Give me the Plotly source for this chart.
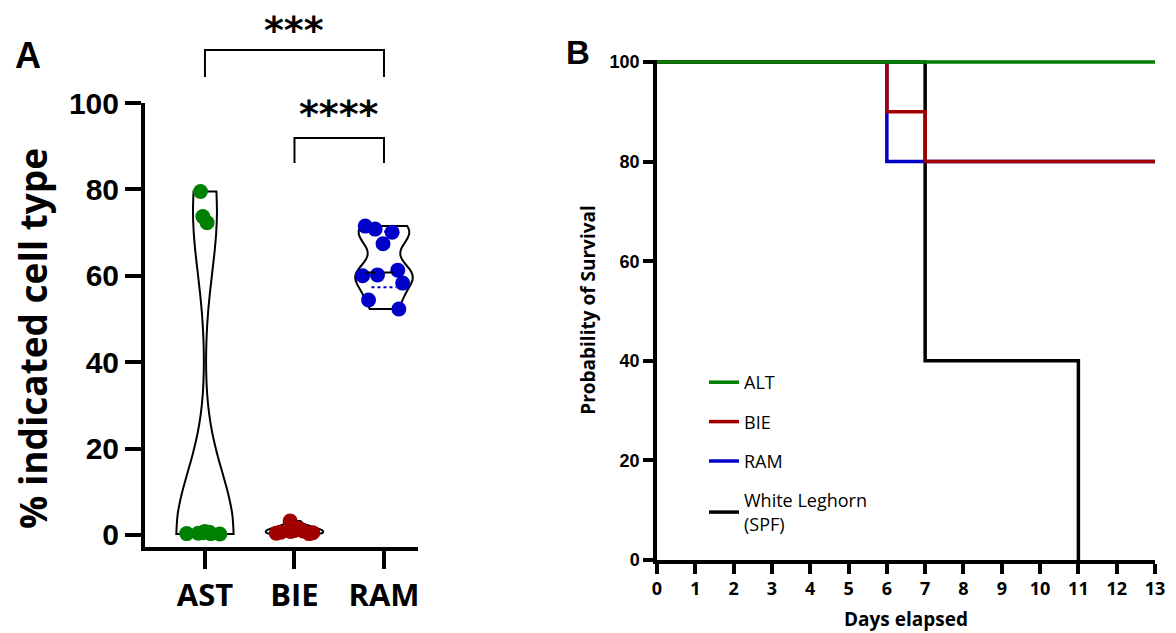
import plotly.graph_objects as go
import numpy as np

# ---------------- data ----------------
categories = ["AST", "BIE", "RAM"]
ast_values = [79.5, 73.7, 72.3, 0.5, 0.8, 0.3, 0.4, 0.6, 0.2, 0.3]
bie_values = [3.2, 1.5, 0.8, 0.5, 0.6, 0.3, 0.9, 1.0, 0.4]
ram_values = [71.5, 70.8, 70.1, 67.4, 61.3, 60.2, 60.0, 58.3, 54.4, 52.3]
group_values = [ast_values, bie_values, ram_values]
y_ticks_a = [0, 20, 40, 60, 80, 100]

comparisons = [("AST", "RAM", "***"), ("BIE", "RAM", "****")]

survival_groups = ["ALT", "BIE", "RAM", "White Leghorn<br>(SPF)"]
days_alt = [0, 13]
surv_alt = [100, 100]
days_bie = [0, 6, 7, 13]
surv_bie = [100, 90, 80, 80]
days_ram = [0, 6, 13]
surv_ram = [100, 80, 80]
days_wl = [0, 7, 11]
surv_wl = [100, 40, 0]
x_ticks_b = list(range(0, 14))
y_ticks_b = [0, 20, 40, 60, 80, 100]

# ---------------- styles ----------------
W, H = 1176, 633
violin_colors = ["#008000", "#a00000", "#0000c8"]
bandwidths = [14, 1.0, 3.0]
surv_colors = {"ALT": "#008000", "BIE": "#a00000", "RAM": "#0000c8",
               "White Leghorn<br>(SPF)": "#000000"}

LX = [145 / W, 418 / W]
LY = [1 - 547 / H, 1 - 103 / H]
RX = [657 / W, 1155 / W]
RY = [1 - 560 / H, 1 - 60 / H]
XR_A = [-0.67, 2.38]
YR_A = [-2.8, 100]
YR_B = [0, 100.4]

SANS = "Open Sans"
ARIAL = "Liberation Sans"

fig = go.Figure()

for cat, vals, col, bw in zip(categories, group_values, violin_colors, bandwidths):
    fig.add_trace(go.Violin(
        x=[cat] * len(vals), y=vals, name=cat,
        xaxis="x", yaxis="y",
        points="all", pointpos=0, jitter=1.0,
        spanmode="hard", bandwidth=bw, width=0.64, scalemode="width",
        fillcolor="rgba(255,255,255,0)",
        line=dict(color="black", width=2),
        marker=dict(color=col, size=15, line=dict(width=0)),
        showlegend=False, hoveron="points",
    ))

# median (dashed) and quartiles (dotted) for RAM
ram_sorted = np.sort(ram_values)
n = len(ram_sorted)
def q(p):
    pos = (n + 1) * p - 1
    lo = int(np.floor(pos)); hi = min(lo + 1, n - 1)
    return ram_sorted[lo] + (pos - lo) * (ram_sorted[hi] - ram_sorted[lo])
ri = categories.index("RAM")
for val, dash, hw in [(q(0.5), "dash", 0.2), (q(0.25), "dot", 0.14), (q(0.75), "dot", 0.2)]:
    fig.add_shape(type="line", xref="x", yref="y", x0=ri - hw, x1=ri + hw,
                  y0=val, y1=val, line=dict(color="black" if dash == "dash" else "#0000c8",
                                             width=2, dash=dash), layer="above")

# survival curves (draw order: black, blue, red, green)
surv_data = {"ALT": (days_alt, surv_alt), "BIE": (days_bie, surv_bie),
             "RAM": (days_ram, surv_ram), "White Leghorn<br>(SPF)": (days_wl, surv_wl)}
for name in ["White Leghorn<br>(SPF)", "RAM", "BIE", "ALT"]:
    d, s = surv_data[name]
    fig.add_trace(go.Scatter(
        x=d, y=s, name=name, mode="lines", line_shape="hv",
        line=dict(color=surv_colors[name], width=3.5),
        xaxis="x2", yaxis="y2", cliponaxis=False,
        legendgroup=name, legendrank=survival_groups.index(name) + 1,
    ))

def xp(i):
    return LX[0] + (i - XR_A[0]) / (XR_A[1] - XR_A[0]) * (LX[1] - LX[0])

def yp(v):
    return LY[0] + (v - YR_A[0]) / (YR_A[1] - YR_A[0]) * (LY[1] - LY[0])

bracket_levels = [(112.3, 106.0, 117.0), (91.9, 86.1, 97.5)]
for (c1, c2, stars), (top, leg, ty) in zip(comparisons, bracket_levels):
    i1, i2 = categories.index(c1), categories.index(c2)
    fig.add_shape(type="path", xref="paper", yref="paper",
                  path=f"M {xp(i1)},{yp(leg)} L {xp(i1)},{yp(top)} L {xp(i2)},{yp(top)} L {xp(i2)},{yp(leg)}",
                  line=dict(color="black", width=2))
    fig.add_annotation(x=(xp(i1) + xp(i2)) / 2, y=yp(ty), xref="paper", yref="paper",
                       xanchor="center", yanchor="middle",
                       text=stars, showarrow=False,
                       font=dict(family="DejaVu Sans", size=38, color="black", weight="bold"))

# y-axis title of panel A
fig.add_annotation(x=32 / W, y=1 - 339 / H, xref="paper", yref="paper",
                   xanchor="center", yanchor="middle", textangle=-90,
                   text="% indicated cell type", showarrow=False,
                   font=dict(family=SANS, size=37, color="black", weight="bold"))

fig.add_annotation(x=28 / W, y=1 - 55 / H, xref="paper", yref="paper", text="A",
                   xanchor="center", yanchor="middle",
                   showarrow=False, font=dict(family=ARIAL, size=36, color="black", weight="bold"))
fig.add_annotation(x=578 / W, y=1 - 52 / H, xref="paper", yref="paper", text="B",
                   xanchor="center", yanchor="middle",
                   showarrow=False, font=dict(family=ARIAL, size=33, color="black", weight="bold"))

fig.update_layout(
    width=W, height=H, margin=dict(l=0, r=0, t=0, b=0, autoexpand=False),
    paper_bgcolor="white", plot_bgcolor="white",
    xaxis=dict(domain=LX, anchor="y", type="category", categoryorder="array",
               categoryarray=categories, range=XR_A, showgrid=False, zeroline=False,
               showline=True, linecolor="black", linewidth=4, automargin=False,
               ticks="outside", ticklen=18, tickwidth=4, tickcolor="black",
               tickfont=dict(family=SANS, size=31, color="black", weight="bold")),
    yaxis=dict(domain=LY, anchor="x", range=YR_A, tickvals=y_ticks_a, showgrid=False,
               zeroline=False, showline=True, linecolor="black", linewidth=4, automargin=False,
               ticks="outside", ticklen=16, tickwidth=4, tickcolor="black",
               tickfont=dict(family=ARIAL, size=30, color="black", weight="bold")),
    xaxis2=dict(domain=RX, anchor="y2", range=[0, 13], tickvals=x_ticks_b, showgrid=False,
                zeroline=False, showline=True, linecolor="black", linewidth=3.5, automargin=False,
                ticks="outside", ticklen=10, tickwidth=3.5, tickcolor="black",
                tickfont=dict(family=SANS, size=18, color="black", weight="bold"),
                title=dict(text="Days elapsed", standoff=14,
                           font=dict(family=SANS, size=19, color="black", weight="bold"))),
    yaxis2=dict(domain=RY, anchor="x2", range=YR_B, tickvals=y_ticks_b, showgrid=False,
                zeroline=False, showline=True, linecolor="black", linewidth=3.5, automargin=False,
                ticks="outside", ticklen=10, tickwidth=3.5, tickcolor="black",
                tickfont=dict(family=ARIAL, size=18, color="black", weight="bold"),
                title=dict(text="Probability of Survival", standoff=10,
                           font=dict(family=SANS, size=19, color="black", weight="bold"))),
    legend=dict(x=704 / W, y=1 - 364 / H, xanchor="left", yanchor="top",
                font=dict(family=SANS, size=18, color="black"),
                tracegroupgap=13, itemwidth=30, bgcolor="rgba(0,0,0,0)",
                traceorder="grouped"),
    showlegend=True,
)

fig.write_html("out.html")
